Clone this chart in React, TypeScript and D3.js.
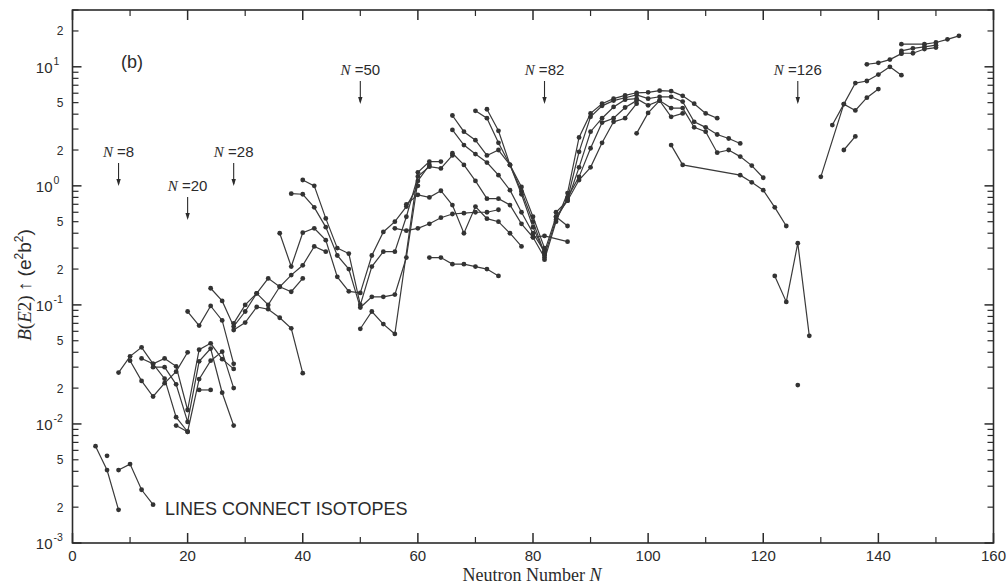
import * as d3 from "d3";

// [N, B(E2)] pairs, one list per isotope chain
type Pt = [number, number];

const lightChains: Pt[][] = [
  [[4, 0.0065], [6, 0.0041], [8, 0.0019]],
  [[8, 0.0041], [10, 0.0046], [12, 0.0028], [14, 0.0021]],
  [[6, 0.0054]],
];

const sdChains: Pt[][] = [
  [[8, 0.027], [10, 0.037], [12, 0.044], [14, 0.032], [16, 0.024], [18, 0.0114], [20, 0.0086]],
  [[10, 0.034], [12, 0.023], [14, 0.017], [16, 0.022], [18, 0.0275], [20, 0.04]],
  [[12, 0.0355], [14, 0.032], [16, 0.0355], [18, 0.0305], [20, 0.0131], [22, 0.042], [24, 0.0476], [26, 0.035], [28, 0.029]],
  [[14, 0.03], [16, 0.03], [18, 0.0215], [20, 0.0104], [22, 0.0336], [24, 0.043], [26, 0.0183], [28, 0.0097]],
  [[18, 0.0097], [20, 0.0086], [22, 0.0238], [24, 0.034], [26, 0.0405], [28, 0.02]],
  [[22, 0.0193], [24, 0.0193]],
];

const fpChains: Pt[][] = [
  [[20, 0.088], [22, 0.067], [24, 0.098], [26, 0.074], [28, 0.032]],
  [[24, 0.138], [26, 0.108], [28, 0.066], [30, 0.088], [32, 0.125], [34, 0.167], [36, 0.142], [38, 0.129], [40, 0.167]],
  [[28, 0.0615], [30, 0.071], [32, 0.096], [34, 0.092], [36, 0.078], [38, 0.0636], [40, 0.0267]],
  [[28, 0.07], [30, 0.1], [32, 0.125], [34, 0.1], [36, 0.142], [38, 0.178], [40, 0.215], [42, 0.31], [44, 0.28]],
];

const midChains: Pt[][] = [
  [[36, 0.4], [38, 0.21], [40, 0.404], [42, 0.44], [44, 0.35], [46, 0.172], [48, 0.13], [50, 0.126], [52, 0.26], [54, 0.41], [56, 0.5], [58, 0.67], [60, 1.0]],
  [[38, 0.86], [40, 0.85], [42, 0.66], [44, 0.45], [46, 0.26], [48, 0.2], [50, 0.095], [52, 0.117], [54, 0.117], [56, 0.122], [58, 0.25], [60, 1.1], [62, 1.5]],
  [[40, 1.12], [42, 1.0], [44, 0.533], [46, 0.3], [48, 0.27], [50, 0.1], [52, 0.21], [54, 0.28], [56, 0.28], [58, 0.55], [60, 1.2], [62, 1.45], [64, 1.4], [66, 1.8]],
  [[50, 0.063], [52, 0.088], [54, 0.069], [56, 0.057], [60, 1.3], [62, 1.6], [64, 1.6]],
  [[56, 0.44], [58, 0.42], [60, 0.44], [62, 0.48], [64, 0.54], [66, 0.58], [68, 0.59], [70, 0.6], [72, 0.6], [74, 0.63]],
  [[62, 0.25], [64, 0.25], [66, 0.22], [68, 0.22], [70, 0.21], [72, 0.2], [74, 0.175]],
  [[58, 0.7], [60, 0.84], [62, 0.8], [64, 0.91], [66, 0.69], [68, 0.4], [70, 0.67], [72, 0.53], [74, 0.5], [76, 0.4], [78, 0.31]],
];

const heavyChains: Pt[][] = [
  [[66, 3.9], [68, 2.85], [70, 2.42], [72, 1.8], [74, 2.0], [76, 1.5], [78, 0.98], [80, 0.55], [82, 0.3]],
  [[66, 2.95], [68, 2.2], [70, 1.85], [72, 1.57], [74, 1.23], [76, 0.92], [78, 0.6], [80, 0.4], [82, 0.28]],
  [[66, 1.88], [68, 1.5], [70, 1.1], [72, 0.78], [74, 0.78], [76, 0.69], [78, 0.48], [80, 0.37], [82, 0.25]],
  [[70, 4.27], [72, 3.7], [74, 2.3], [76, 1.5], [78, 0.9], [80, 0.5], [82, 0.27]],
  [[72, 4.4], [74, 2.9], [76, 1.5], [78, 0.85], [80, 0.45], [82, 0.27]],
  [[80, 0.37], [82, 0.38], [86, 0.34]],
  [[84, 0.55], [86, 0.46]],
];

const rareEarthChains: Pt[][] = [
  [[82, 0.24], [84, 0.5], [86, 0.87], [88, 2.55], [90, 4.06], [92, 4.9], [94, 5.4], [96, 5.75], [98, 6.05], [100, 6.1], [102, 6.3], [104, 6.25], [106, 5.7], [108, 4.9], [110, 4.06], [112, 3.7]],
  [[82, 0.26], [84, 0.52], [86, 0.78], [88, 1.93], [90, 3.8], [92, 4.7], [94, 5.2], [96, 5.5], [98, 5.8], [100, 5.4], [102, 5.6], [104, 5.6], [106, 5.1], [108, 3.45], [110, 3.1], [112, 2.7], [114, 2.5], [116, 2.27]],
  [[82, 0.28], [84, 0.55], [86, 0.75], [88, 1.43], [90, 2.85], [92, 3.7], [94, 4.6], [96, 5.3], [98, 5.4], [100, 4.75], [102, 5.2], [104, 4.5], [106, 4.5], [108, 3.1], [110, 2.85], [112, 1.9], [114, 2.0], [116, 1.76], [118, 1.48], [120, 1.17]],
  [[84, 0.6], [86, 0.75], [88, 1.12], [90, 1.43], [92, 2.3], [94, 3.45], [96, 3.7], [98, 4.9]],
  [[86, 0.8], [88, 1.19], [90, 2.07], [92, 3.4], [94, 3.7], [96, 4.55], [98, 5.2]],
  [[98, 2.76], [100, 4.1], [102, 5.2], [104, 3.8], [106, 4.06]],
  [[104, 2.2], [106, 1.5], [116, 1.23], [118, 1.07], [120, 0.92], [122, 0.66], [124, 0.46]],
  [[122, 0.175], [124, 0.106], [126, 0.33], [128, 0.055]],
  [[126, 0.0212]],
];

const actinideChains: Pt[][] = [
  [[130, 1.19], [134, 4.86], [136, 4.3], [138, 5.5], [140, 6.5]],
  [[132, 3.24], [134, 4.86], [136, 7.3], [138, 7.6], [140, 8.6], [142, 10], [144, 8.5]],
  [[134, 2.0], [136, 2.6]],
  [[138, 10.5], [140, 10.8], [142, 11.5], [144, 12.9]],
  [[144, 15.5], [148, 15.5], [150, 16], [152, 17], [154, 18.2]],
  [[144, 13.6], [146, 14.3], [148, 14.7], [150, 15.2]],
  [[144, 13.0], [146, 13.0], [148, 14.1], [150, 14.5]],
];

const magicNumbers = [8, 20, 28, 50, 82, 126];
const magicRow = [1, 2, 1, 0, 0, 0]; // label row (0 = top)
const xTicks = [0, 20, 40, 60, 80, 100, 120, 140, 160];

const W = 1007;
const H = 584;
const X0 = 72.5;
const X1 = 993.5;
const Y0 = 543;
const Y1 = 10;

const allChains = [
  ...lightChains,
  ...sdChains,
  ...fpChains,
  ...midChains,
  ...heavyChains,
  ...rareEarthChains,
  ...actinideChains,
];

export default function App() {
  const x = d3.scaleLinear().domain([0, 160]).range([X0, X1]);
  const y = d3.scaleLog().domain([1e-3, 30]).range([Y0, Y1]);
  const line = d3
    .line<Pt>()
    .x((d) => x(d[0]))
    .y((d) => y(d[1]));

  // log minor ticks
  const yMinor: number[] = [];
  for (let e = -3; e <= 1; e++) {
    for (let m = 2; m <= 9; m++) {
      const v = m * Math.pow(10, e);
      if (v <= 30) yMinor.push(v);
    }
  }
  const yMajor = [1e-3, 1e-2, 1e-1, 1, 10];
  const yLabeled = yMinor.filter((v) => {
    const m = Math.round(v / Math.pow(10, Math.floor(Math.log10(v) + 1e-9)));
    return m === 2 || m === 5;
  });
  const xMinor = d3.range(10, 160, 20);

  const sans = "'Liberation Sans', Arial, sans-serif";
  const serif = "'Liberation Serif', 'Times New Roman', serif";
  const ink = "#2b2b2b";

  return (
    <div style={{ position: "absolute", left: 0, top: 0, background: "#fff" }}>
      <svg width={W} height={H} viewBox={`0 0 ${W} ${H}`} style={{ display: "block" }}>
        <rect width={W} height={H} fill="#fff" />
        {/* frame */}
        <rect x={X0} y={Y1} width={X1 - X0} height={Y0 - Y1} fill="none" stroke={ink} strokeWidth={1.6} />

        {/* y ticks, both sides */}
        {yMajor.map((v) => (
          <g key={`ym-${v}`}>
            <line x1={X0} x2={X0 + 9} y1={y(v)} y2={y(v)} stroke={ink} strokeWidth={1.5} />
            <line x1={X1} x2={X1 - 9} y1={y(v)} y2={y(v)} stroke={ink} strokeWidth={1.5} />
            <text x={X0 - 20} y={y(v) + 6} fontSize={15} textAnchor="end" fill={ink} fontFamily={sans}>
              10
            </text>
            <text x={X0 - 19} y={y(v) - 2} fontSize={10.5} textAnchor="start" fill={ink} fontFamily={sans}>
              {Math.round(Math.log10(v))}
            </text>
          </g>
        ))}
        {yMinor.map((v) => (
          <g key={`yn-${v}`}>
            <line x1={X0} x2={X0 + 6} y1={y(v)} y2={y(v)} stroke={ink} strokeWidth={1.2} />
            <line x1={X1} x2={X1 - 6} y1={y(v)} y2={y(v)} stroke={ink} strokeWidth={1.2} />
          </g>
        ))}
        {yLabeled.map((v) => (
          <text key={`yl-${v}`} x={X0 - 9} y={y(v) + 4.5} fontSize={12} textAnchor="end" fill={ink} fontFamily={sans}>
            {String(v).replace(/^0\.0*/, "")[0]}
          </text>
        ))}

        {/* x ticks, both sides */}
        {xTicks.map((t) => (
          <g key={`xt-${t}`}>
            <line x1={x(t)} x2={x(t)} y1={Y0} y2={Y0 - 10} stroke={ink} strokeWidth={1.5} />
            <line x1={x(t)} x2={x(t)} y1={Y1} y2={Y1 + 10} stroke={ink} strokeWidth={1.5} />
            <text x={x(t)} y={Y0 + 18} fontSize={15} textAnchor="middle" fill={ink} fontFamily={sans}>
              {t}
            </text>
          </g>
        ))}
        {xMinor.map((t) => (
          <g key={`xn-${t}`}>
            <line x1={x(t)} x2={x(t)} y1={Y0} y2={Y0 - 6} stroke={ink} strokeWidth={1.2} />
            <line x1={x(t)} x2={x(t)} y1={Y1} y2={Y1 + 6} stroke={ink} strokeWidth={1.2} />
          </g>
        ))}

        {/* axis labels */}
        <text x={532} y={581} fontSize={18} textAnchor="middle" fill={ink} fontFamily={serif}>
          Neutron Number <tspan fontStyle="italic">N</tspan>
        </text>
        <text transform="translate(31,285) rotate(-90)" fontSize={19} textAnchor="middle" fill={ink}>
          <tspan fontFamily={serif} fontStyle="italic">B</tspan>
          <tspan fontFamily={serif}>(</tspan>
          <tspan fontFamily={serif} fontStyle="italic">E</tspan>
          <tspan fontFamily={serif}>2) ↑ </tspan>
          <tspan fontFamily={sans}>(e</tspan>
          <tspan fontFamily={sans} fontSize={12} dy={-8}>2</tspan>
          <tspan fontFamily={sans} dy={8}>b</tspan>
          <tspan fontFamily={sans} fontSize={12} dy={-8}>2</tspan>
          <tspan fontFamily={sans} dy={8}>)</tspan>
        </text>

        <text x={121} y={68} fontSize={18} fill={ink} fontFamily={sans}>
          (b)
        </text>
        <text x={165} y={515} fontSize={18} fill={ink} fontFamily={sans}>
          LINES CONNECT ISOTOPES
        </text>

        {/* magic number markers */}
        {magicNumbers.map((n, i) => {
          const ax = x(n);
          const base = [75, 157, 191][magicRow[i]];
          return (
            <g key={`mg-${n}`}>
              <text x={ax} y={base} fontSize={15} fill={ink} textAnchor="middle">
                <tspan fontFamily={serif} fontStyle="italic">N</tspan>
                <tspan fontFamily={sans}> =</tspan>
                <tspan fontFamily={sans}>{n}</tspan>
              </text>
              <line x1={ax} x2={ax} y1={base + 6} y2={base + 27} stroke={ink} strokeWidth={1.1} />
              <path d={`M${ax - 2.2},${base + 22} L${ax + 2.2},${base + 22} L${ax},${base + 29} Z`} fill={ink} />
            </g>
          );
        })}

        {/* isotope chains */}
        {allChains.map((c, i) => (
          <path key={`c-${i}`} d={line(c) ?? ""} fill="none" stroke="#3a3a3a" strokeWidth={1.2} />
        ))}
        {allChains.map((c, i) =>
          c.map((p, j) => (
            <circle key={`p-${i}-${j}`} cx={x(p[0])} cy={y(p[1])} r={2.4} fill="#333" />
          ))
        )}
      </svg>
    </div>
  );
}
